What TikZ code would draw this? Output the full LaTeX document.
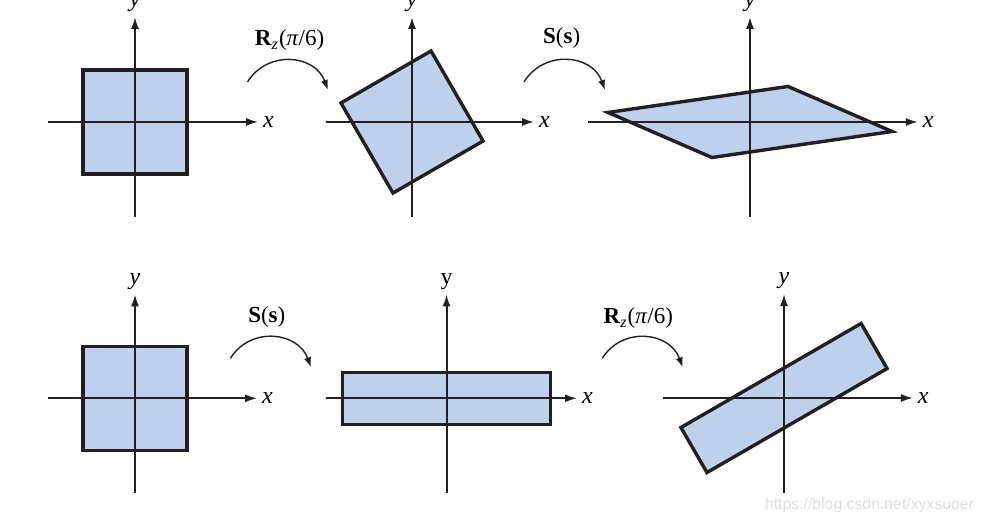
\documentclass[tikz,border=0pt]{standalone}
\usepackage{fontspec}
\setmainfont{Liberation Serif}
\newfontfamily\wmfont{Liberation Sans}
\usetikzlibrary{arrows.meta}
\definecolor{shapefill}{RGB}{190,208,236}
\definecolor{inkline}{RGB}{35,31,32}
\definecolor{wmgray}{RGB}{222,222,222}
\tikzset{
  axis/.style={draw=inkline, line width=1pt, -{Latex[length=6pt,width=4pt]}},
  shapebox/.style={fill=shapefill, draw=inkline, line width=1.7pt, line join=miter},
  mapto/.style={draw=inkline, line width=0.7pt, -{Latex[length=5pt,width=3.6pt]},
    out=58, in=110, looseness=1.2},
  axlabel/.style={font=\fontsize{12}{14}\selectfont, inner sep=2pt},
  maplabel/.style={font=\fontsize{11.5}{14}\selectfont}
}
\newcommand{\rotlabel}{\textbf{R}\textsubscript{\textit{z}}(\textit{π}/6)}
\newcommand{\scalelabel}{\textbf{S}(\textbf{s})}

\begin{document}
\begin{tikzpicture}[x=26pt,y=26pt]
\useasboundingbox (0,0) rectangle (18.942,10.077);

% top row: rotate, then scale
\begin{scope}[shift={(2.596,7.731)}]
\draw[shapebox] (-1,-1) rectangle (1,1);
\draw[axis] (-1.67,0) -- (2.37,0) node[axlabel,right] (xa) {\textit{x}};
\draw[axis] (0,-1.83) -- (0,2.02) node[axlabel,above] (ya) {\textit{y}};
\end{scope}

\begin{scope}[shift={(7.923,7.731)}]
\draw[shapebox,rotate=30] (-1,-1) rectangle (1,1);
\draw[axis] (-1.65,0) -- (2.35,0) node[axlabel,right] (xb) {\textit{x}};
\draw[axis] (0,-1.83) -- (0,2.02) node[axlabel,above] (yb) {\textit{y}};
\end{scope}

\begin{scope}[shift={(14.423,7.731)}]
\draw[shapebox,xscale=2,yscale=0.5,rotate=30] (-1,-1) rectangle (1,1);
\draw[axis] (-3.12,0) -- (3.23,0) node[axlabel,right] (xc) {\textit{x}};
\draw[axis] (0,-1.83) -- (0,2.02) node[axlabel,above] (yc) {\textit{y}};
\end{scope}

\node[maplabel] (rota) at (5.569,9.308) {\rotlabel};
\coordinate (rota1) at (4.760,8.502);
\coordinate (rota2) at (6.306,8.346);
\draw[mapto] (rota1) to (rota2);

\node[maplabel] (scla) at (10.802,9.346) {\scalelabel};
\coordinate (scla1) at (10.077,8.502);
\coordinate (scla2) at (11.635,8.346);
\draw[mapto] (scla1) to (scla2);

% bottom row: scale, then rotate
\begin{scope}[shift={(2.596,2.417)}]
\draw[shapebox] (-1,-1) rectangle (1,1);
\draw[axis] (-1.67,0) -- (2.35,0) node[axlabel,right] (xd) {\textit{x}};
\draw[axis] (0,-1.83) -- (0,2.0) node[axlabel,above] (yd) {\textit{y}};
\end{scope}

\begin{scope}[shift={(8.587,2.417)}]
\draw[shapebox] (-2,-0.5) rectangle (2,0.5);
\draw[axis] (-2.32,0) -- (2.51,0) node[axlabel,right] (xe) {\textit{x}};
\draw[axis] (0,-1.83) -- (0,2.0) node[axlabel,above] (ye) {y};
\end{scope}

\begin{scope}[shift={(15.077,2.423)}]
\draw[shapebox,rotate=30,xscale=2,yscale=0.5] (-1,-1) rectangle (1,1);
\draw[axis] (-2.33,0) -- (2.48,0) node[axlabel,right] (xf) {\textit{x}};
\draw[axis] (0,-1.83) -- (0,2.0) node[axlabel,above] (yf) {\textit{y}};
\end{scope}

\node[maplabel] (sclb) at (5.131,3.981) {\scalelabel};
\coordinate (sclb1) at (4.431,3.187);
\coordinate (sclb2) at (5.981,3.013);
\draw[mapto] (sclb1) to (sclb2);

\node[maplabel] (rotb) at (12.275,3.962) {\rotlabel};
\coordinate (rotb1) at (11.583,3.187);
\coordinate (rotb2) at (13.129,3.013);
\draw[mapto] (rotb1) to (rotb2);

\node[font=\wmfont\fontsize{7.9}{9}\selectfont, text=wmgray] (wmark) at (16.721,0.352)
  {https://blog.csdn.net/xyxsuoer};
\end{tikzpicture}
\end{document}
